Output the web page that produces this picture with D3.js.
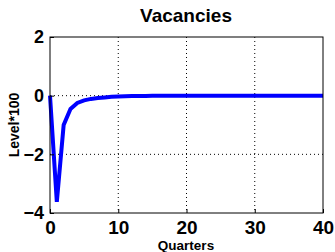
<!DOCTYPE html>
<html>
<head>
<meta charset="utf-8">
<script src="https://cdn.jsdelivr.net/npm/d3@7"></script>
<style>
  body { margin: 0; background: #fff; }
  text { font-family: "Liberation Sans", Arial, sans-serif; font-weight: bold; }
</style>
</head>
<body>
<div id="chart"></div>
<script>
var quarters = d3.range(0, 41);
var vacancies = [0, -3.62, -1.0, -0.45, -0.25, -0.16, -0.11, -0.08, -0.06, -0.04,
  -0.03, -0.02, -0.015, -0.01, -0.008, -0.005, -0.004, -0.003, -0.002, -0.001,
  0, 0, 0, 0, 0, 0, 0, 0, 0, 0,
  0, 0, 0, 0, 0, 0, 0, 0, 0, 0, 0];
var xTicks = [0, 10, 20, 30, 40];
var yTicks = [2, 0, -2, -4];

var width = 335, height = 252;
var m = {left: 50, right: 12, top: 37, bottom: 39};

var svg = d3.select("#chart").append("svg")
  .attr("width", width).attr("height", height);

var x = d3.scaleLinear().domain([0, 40]).range([m.left, width - m.right]);
var y = d3.scaleLinear().domain([-4, 2]).range([height - m.bottom, m.top]);

// grid
svg.append("g").selectAll("line")
  .data(xTicks.filter(function (d) { return d > 0 && d < 40; }))
  .enter().append("line")
  .attr("x1", function (d) { return x(d); }).attr("x2", function (d) { return x(d); })
  .attr("y1", y(2)).attr("y2", y(-4))
  .attr("stroke", "#000").attr("stroke-width", 1).attr("stroke-dasharray", "1,3");
svg.append("g").selectAll("line")
  .data(yTicks.filter(function (d) { return d > -4 && d < 2; }))
  .enter().append("line")
  .attr("y1", function (d) { return y(d); }).attr("y2", function (d) { return y(d); })
  .attr("x1", x(0)).attr("x2", x(40))
  .attr("stroke", "#000").attr("stroke-width", 1).attr("stroke-dasharray", "1,3");

// line
var line = d3.line()
  .x(function (d, i) { return x(quarters[i]); })
  .y(function (d) { return y(d); });
svg.append("path").datum(vacancies)
  .attr("d", line)
  .attr("fill", "none").attr("stroke", "#0000ff").attr("stroke-width", 4)
  .attr("stroke-linejoin", "miter");

// box
svg.append("rect")
  .attr("x", x(0)).attr("y", y(2))
  .attr("width", x(40) - x(0)).attr("height", y(-4) - y(2))
  .attr("fill", "none").attr("stroke", "#000").attr("stroke-width", 1);

// axes
var xAxis = d3.axisBottom(x).tickValues(xTicks).tickFormat(d3.format("d"))
  .tickSizeInner(-4).tickSizeOuter(0).tickPadding(8);
var gx = svg.append("g").attr("transform", "translate(0," + y(-4) + ")").call(xAxis);
gx.select(".domain").remove();
gx.selectAll("text").style("font-size", "19px").attr("fill", "#000");

var yAxis = d3.axisLeft(y).tickValues(yTicks).tickFormat(d3.format("d"))
  .tickSizeInner(-4).tickSizeOuter(0).tickPadding(6);
var gy = svg.append("g").attr("transform", "translate(" + x(0) + ",0)").call(yAxis);
gy.select(".domain").remove();
gy.selectAll("text").style("font-size", "18px").attr("fill", "#000");

// labels
svg.append("text").attr("x", 186).attr("y", 22)
  .attr("text-anchor", "middle").style("font-size", "19px").text("Vacancies");
svg.append("text").attr("x", 186).attr("y", 250)
  .attr("text-anchor", "middle").style("font-size", "13.5px").text("Quarters");
svg.append("text").attr("transform", "translate(19,125) rotate(-90)")
  .attr("text-anchor", "middle").style("font-size", "14px").text("Level*100");
</script>
</body>
</html>
